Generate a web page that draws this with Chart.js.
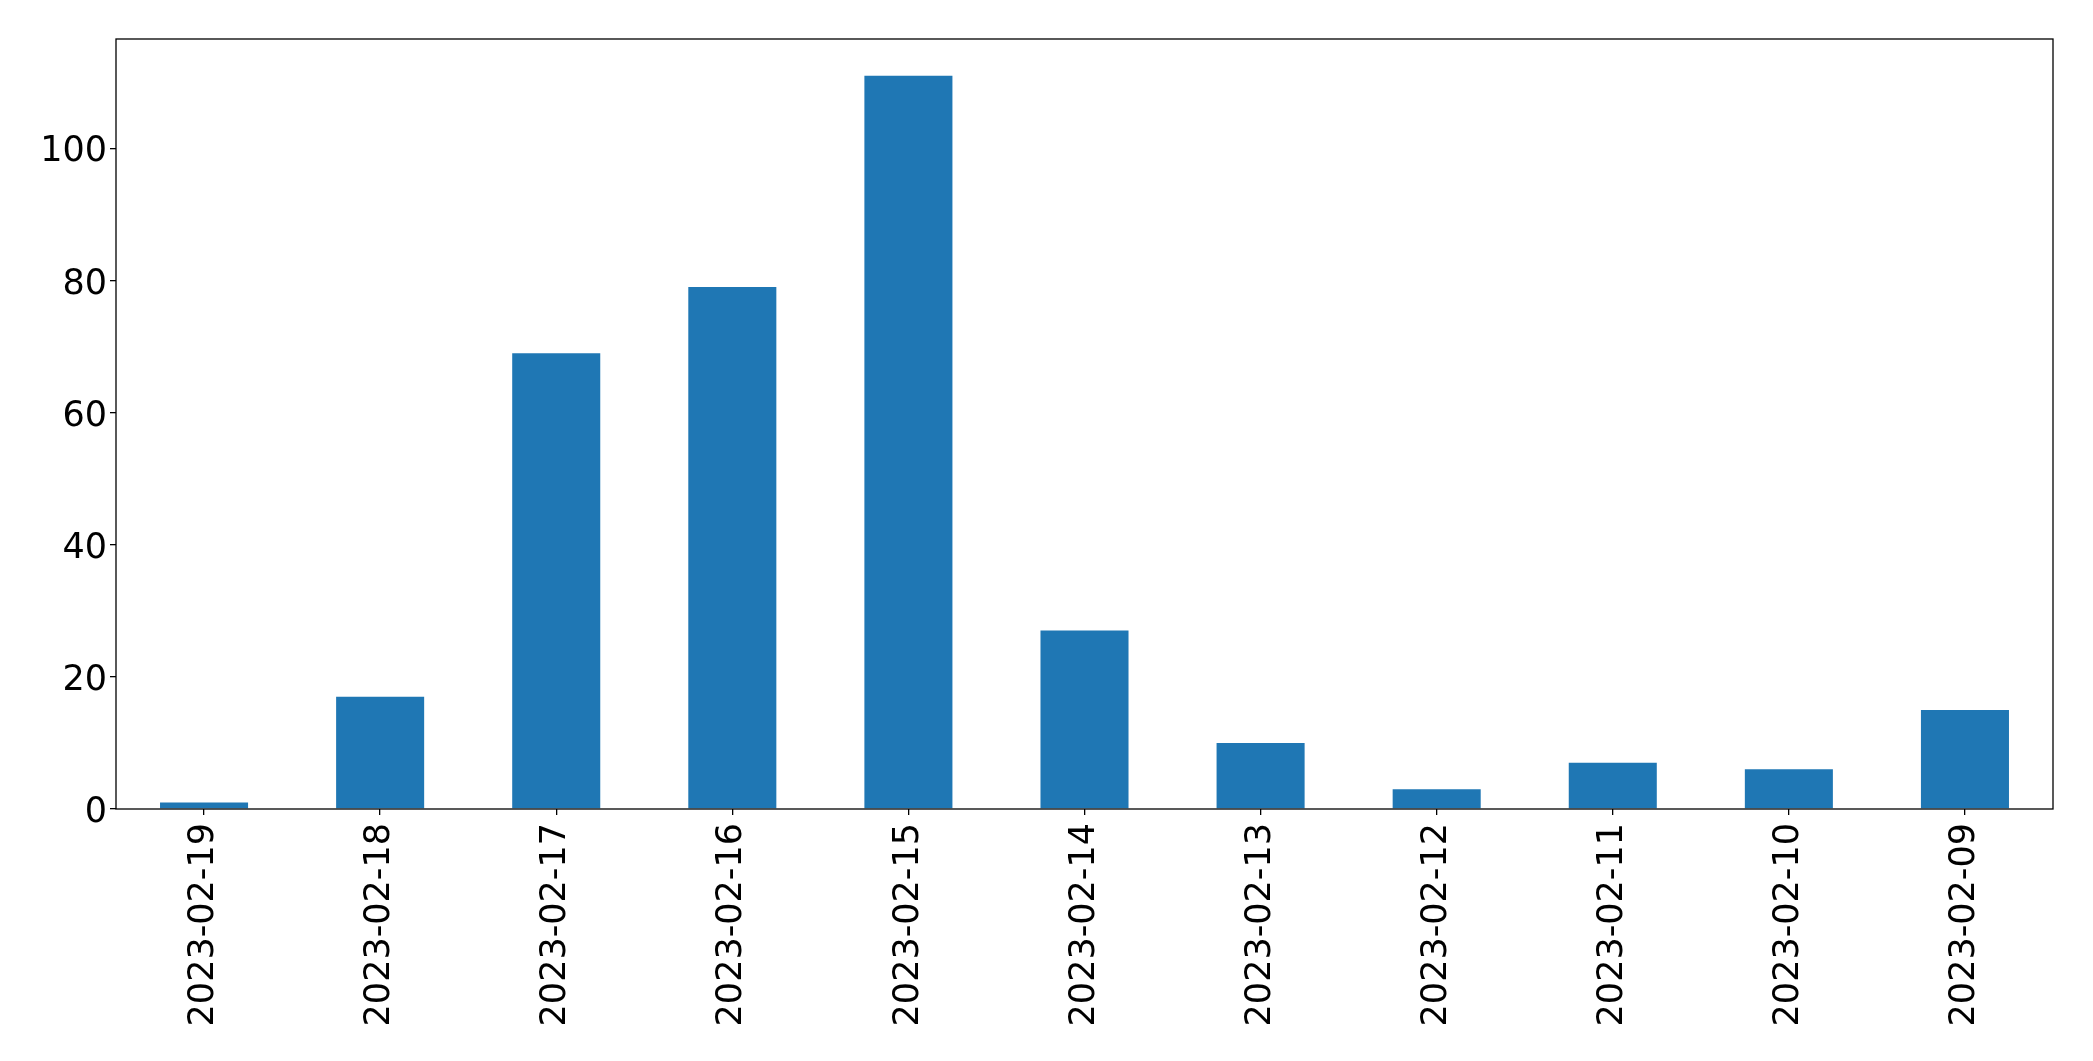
<!DOCTYPE html>
<html>
<head>
<meta charset="utf-8">
<script src="https://cdn.jsdelivr.net/npm/chart.js@4/dist/chart.umd.min.js"></script>
<style>
  html, body { margin: 0; padding: 0; background: #fff; }
  canvas { display: block; }
</style>
</head>
<body>
<canvas id="chart" width="2093" height="1061"></canvas>
<script>
// data
const dates = ["2023-02-19", "2023-02-18", "2023-02-17", "2023-02-16", "2023-02-15",
               "2023-02-14", "2023-02-13", "2023-02-12", "2023-02-11", "2023-02-10", "2023-02-09"];
const counts = [1, 17, 69, 79, 111, 27, 10, 3, 7, 6, 15];
const yTicks = [0, 20, 40, 60, 80, 100];

const FONT = "'DejaVu Sans', sans-serif";

// black frame around the plot area, like matplotlib spines
const frame = {
    id: "frame",
    afterDraw(chart) {
        const { ctx, chartArea: a } = chart;
        ctx.save();
        ctx.strokeStyle = "#000";
        ctx.lineWidth = 1.3;
        ctx.strokeRect(a.left, a.top, a.right - a.left, a.bottom - a.top);
        ctx.restore();
    }
};

const ctx = document.getElementById("chart").getContext("2d");
new Chart(ctx, {
    type: "bar",
    data: {
        labels: dates,
        datasets: [{
            data: counts,
            backgroundColor: "#1f77b4",
            borderWidth: 0,
            barPercentage: 0.5,
            categoryPercentage: 1.0,
        }]
    },
    options: {
        responsive: false,
        animation: false,
        layout: { padding: { top: 39, right: 40, left: 0, bottom: 0 } },
        plugins: { legend: { display: false }, tooltip: { enabled: false } },
        scales: {
            x: {
                offset: true,
                grid: { display: true, drawOnChartArea: false, offset: false, tickLength: 6, color: "#000", lineWidth: 1.3 },
                border: { display: false },
                ticks: {
                    color: "#000",
                    font: { family: FONT, size: 35 },
                    minRotation: 90,
                    maxRotation: 90,
                    padding: 8,
                    autoSkip: false,
                },
                afterFit(scale) { scale.height = 252; },
            },
            y: {
                min: 0,
                max: 111 * 1.05,
                grid: { display: true, drawOnChartArea: false, tickLength: 6, color: "#000", lineWidth: 1.3 },
                border: { display: false },
                afterBuildTicks(scale) { scale.ticks = yTicks.map(v => ({ value: v })); },
                ticks: {
                    color: "#000",
                    font: { family: FONT, size: 35 },
                    padding: 3,
                    labelOffset: 4,
                },
                afterFit(scale) { scale.width = 116; },
            }
        }
    },
    plugins: [frame]
});
</script>
</body>
</html>
